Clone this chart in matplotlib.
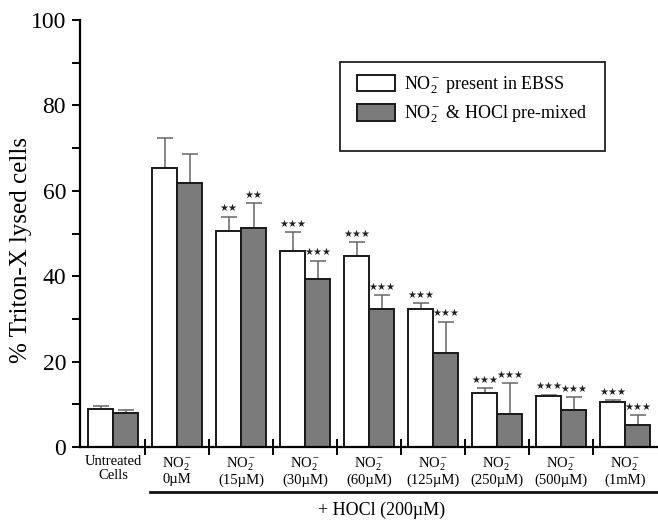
import matplotlib
matplotlib.use("Agg")
import matplotlib.pyplot as plt
import matplotlib.transforms as mtransforms
from matplotlib.patches import Rectangle
import numpy as np

plt.rcParams["font.family"] = ["Liberation Serif", "DejaVu Sans"]
plt.rcParams["mathtext.fontset"] = "custom"
plt.rcParams["mathtext.rm"] = "Liberation Serif"
plt.rcParams["mathtext.it"] = "Liberation Serif:italic"

# Group labels along the x axis
groups = [
    "Untreated\nCells",
    "NO$_2^-$\n0µM",
    "NO$_2^-$\n(15µM)",
    "NO$_2^-$\n(30µM)",
    "NO$_2^-$\n(60µM)",
    "NO$_2^-$\n(125µM)",
    "NO$_2^-$\n(250µM)",
    "NO$_2^-$\n(500µM)",
    "NO$_2^-$\n(1mM)",
]

# % lysed cells, NO2- present in EBSS
ebss_mean = [8.9, 65.3, 50.5, 45.9, 44.7, 32.3, 12.6, 11.9, 10.5]
ebss_err = [0.7, 7.1, 3.4, 4.4, 3.3, 1.4, 1.2, 0.3, 0.5]
ebss_sig = ["", "", "**", "***", "***", "***", "***", "***", "***"]

# % lysed cells, NO2- and HOCl pre-mixed
premix_mean = [8.0, 61.8, 51.2, 39.3, 32.3, 22.0, 7.7, 8.7, 5.1]
premix_err = [0.7, 6.8, 5.9, 4.3, 3.2, 7.3, 7.3, 3.0, 2.4]
premix_sig = ["", "", "**", "***", "***", "***", "***", "***", "***"]

x = np.arange(len(groups))
width = 0.39

fig = plt.figure(figsize=(6.58, 5.21), dpi=100)
ax = fig.add_axes([0.1216, 0.142, 0.877, 0.8196])

ax.bar(x - width / 2, ebss_mean, width, color="white", edgecolor="#1a1a1a",
       linewidth=1.4, label="NO$_2^-$ present in EBSS", zorder=2)
ax.bar(x + width / 2, premix_mean, width, color="#7b7b7b", edgecolor="#1a1a1a",
       linewidth=1.4, label="NO$_2^-$ & HOCl pre-mixed", zorder=2)

zeros = np.zeros(len(groups))
ax.errorbar(x - width / 2, ebss_mean, yerr=[zeros, ebss_err], fmt="none",
            ecolor="#666666", elinewidth=1.1, capsize=6, capthick=1.1, zorder=1)
ax.errorbar(x + width / 2, premix_mean, yerr=[zeros, premix_err], fmt="none",
            ecolor="#666666", elinewidth=1.1, capsize=6, capthick=1.1, zorder=1)

# significance stars above the error bars
for xs, means, errs, sigs in [
    (x - width / 2, ebss_mean, ebss_err, ebss_sig),
    (x + width / 2, premix_mean, premix_err, premix_sig),
]:
    for xi, m, e, s in zip(xs, means, errs, sigs):
        if s:
            ax.annotate(s.replace("*", "★"), (xi, m + e), xytext=(0, 2.5),
                        textcoords="offset points", ha="center", va="bottom",
                        fontsize=7.2, family="DejaVu Sans", color="#222222")

ax.set_xlim(-0.516, 8.5)
ax.set_ylim(0, 100)

for side in ("top", "right"):
    ax.spines[side].set_visible(False)
ax.spines["left"].set_linewidth(1.6)
ax.spines["bottom"].set_linewidth(1.6)

ax.set_yticks([0, 20, 40, 60, 80, 100])
ax.set_yticks([10, 30, 50, 70, 90], minor=True)
ax.tick_params(axis="y", which="major", length=6, width=1.4, labelsize=17, pad=4)
ax.tick_params(axis="y", which="minor", length=6, width=1.4)

# boundary ticks between groups, labels at group centres
ax.set_xticks(x[:-1] + 0.5)
ax.set_xticklabels([])
ax.set_xticks(x, minor=True)
ax.set_xticklabels(groups, minor=True, fontsize=10.5, linespacing=1.05)
ax.tick_params(axis="x", which="major", direction="inout", length=11, width=1.4)
ax.tick_params(axis="x", which="minor", length=0, pad=6)

ax.set_ylabel("% Triton-X lysed cells", fontsize=18)
ax.yaxis.set_label_coords(-0.083, 0.461)

# bracket for the HOCl-treated groups
trans = mtransforms.blended_transform_factory(ax.transData, ax.transAxes)
ax.plot([0.58, 8.55], [-0.105, -0.105], color="#111111", linewidth=2,
        transform=trans, clip_on=False)
ax.text(4.2, -0.148, "+ HOCl (200µM)", transform=trans, ha="center",
        va="center", fontsize=13)

ax.add_patch(Rectangle((0.4506, 0.693), 0.4594, 0.2086, transform=ax.transAxes,
                       fill=False, edgecolor="#222222", linewidth=1.3,
                       clip_on=False, zorder=3))
ax.legend(loc="upper left", bbox_to_anchor=(0.474, 0.882), frameon=False,
          fontsize=13, handlelength=2.1, handleheight=1.0, handletextpad=0.5,
          labelspacing=0.45, borderpad=0.2, borderaxespad=0)

fig.savefig("out.png", dpi=100)
